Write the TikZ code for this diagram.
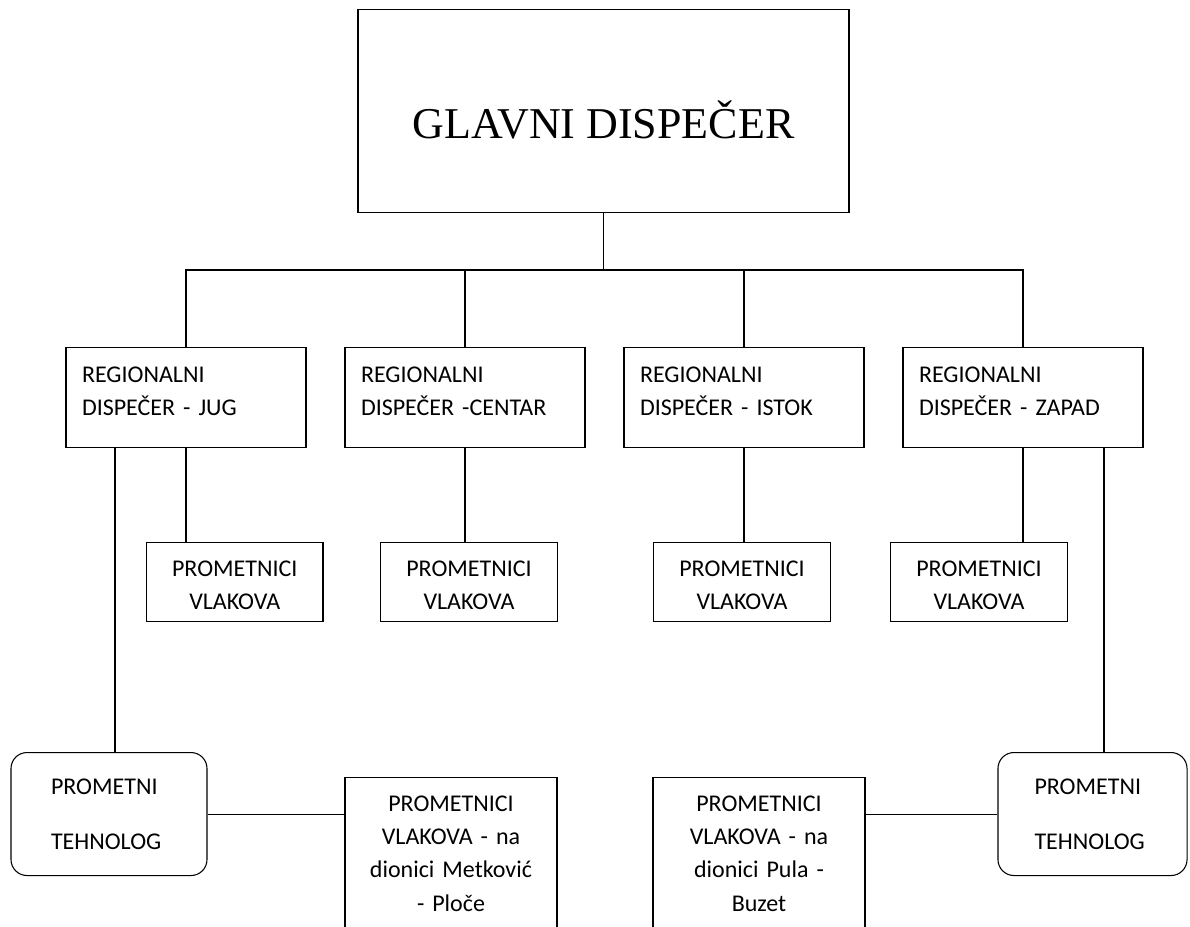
\documentclass[tikz,border=0pt]{standalone}
\usepackage{fontspec}
\setmainfont{Carlito}
\newfontfamily\titlefont{Liberation Serif}
\usepackage{tikz}

\begin{document}
\begin{tikzpicture}[x=0.75pt,y=0.75pt,yscale=-1,xscale=1,
  box/.style={draw, line width=0.8pt, inner xsep=0pt, inner ysep=0pt, anchor=north, font=\fontsize{18}{25}\selectfont},
  regbox/.style={box, text width=156pt, inner xsep=12pt, align=left, text height=26pt, text depth=49pt},
  vlakbox/.style={box, text width=116.4pt, inner xsep=8pt, align=center, text height=25.5pt, text depth=33.75pt},
  dionbox/.style={box, text width=143pt, inner xsep=8pt, align=center, text height=25.3pt, text depth=150pt},
  tehbox/.style={box, rounded corners=12pt, text width=87pt, align=left, text height=31.5pt, text depth=60.75pt},
  line/.style={line width=0.8pt}
]
\useasboundingbox (0,0) rectangle (1190,927);

% Text Node
\node [box, minimum width=368.25pt, text height=97pt, text depth=55.3pt, font=\titlefont\fontsize{33}{40}\selectfont] (glavni) at (603.5,9) {GLAVNI DISPEČER};

% Text Node
\node [regbox] (jug) at (186,347) {REGIONALNI\\DISPEČER - JUG};
% Text Node
\node [regbox] (centar) at (465,347) {REGIONALNI\\DISPEČER -CENTAR};
% Text Node
\node [regbox] (istok) at (744,347) {REGIONALNI\\DISPEČER - ISTOK};
% Text Node
\node [regbox] (zapad) at (1023,347) {REGIONALNI\\DISPEČER - ZAPAD};

% Text Node
\node [vlakbox] (vlakJug) at (234.75,542) {PROMETNICI\\VLAKOVA};
% Text Node
\node [vlakbox] (vlakCentar) at (469,542) {PROMETNICI\\VLAKOVA};
% Text Node
\node [vlakbox] (vlakIstok) at (742,542) {PROMETNICI\\VLAKOVA};
% Text Node
\node [vlakbox] (vlakZapad) at (979,542) {PROMETNICI\\VLAKOVA};

% Text Node
\node [tehbox, inner xsep=30pt] (tehL) at (109,752) {PROMETNI\\[16.25pt]TEHNOLOG};
% Text Node
\node [tehbox, inner xsep=27.4pt] (tehR) at (1092.5,752) {PROMETNI\\[16.25pt]TEHNOLOG};

% Text Node
\node [dionbox] (metk) at (451,777) {PROMETNICI\\VLAKOVA - na\\dionici Metković\\- Ploče};
% Text Node
\node [dionbox] (pula) at (759,777) {PROMETNICI\\VLAKOVA - na\\dionici Pula -\\Buzet};

\coordinate (bus) at (603.5,270);

%Straight Lines
\draw [line] (glavni.south) -- (bus);
\draw [line] (jug.north) |- (bus) -| (zapad.north);
\draw [line] (centar.north) -- (centar.north |- bus);
\draw [line] (istok.north) -- (istok.north |- bus);

%Straight Lines
\draw [line] (jug.south) -- (jug.south |- vlakJug.north);
\draw [line] (centar.south) -- (centar.south |- vlakCentar.north);
\draw [line] (istok.south) -- (istok.south |- vlakIstok.north);
\draw [line] (zapad.south) -- (zapad.south |- vlakZapad.north);

%Straight Lines
\draw [line] ([xshift=4.5pt]tehL.north) -- ([xshift=4.5pt]tehL.north |- jug.south);
\draw [line] ([xshift=8.6pt]tehR.north) -- ([xshift=8.6pt]tehR.north |- zapad.south);
\draw [line] (tehL.east) -- (tehL.east -| metk.west);
\draw [line] (tehR.west) -- (tehR.west -| pula.east);

\end{tikzpicture}
\end{document}
